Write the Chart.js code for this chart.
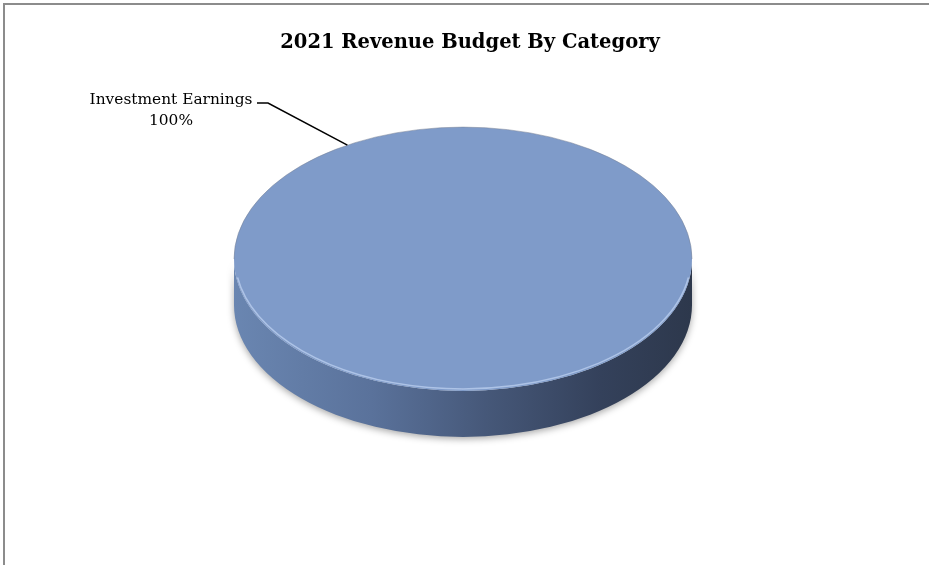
<!DOCTYPE html>
<html>
<head>
<meta charset="utf-8">
<title>2021 Revenue Budget By Category</title>
<script src="https://cdn.jsdelivr.net/npm/chart.js@4.4.1/dist/chart.umd.min.js"></script>
<style>
  html, body { margin: 0; padding: 0; background: #fff; }
  #wrap { position: relative; width: 930px; height: 565px; overflow: hidden; }
  #revenueChart { position: absolute; left: 0; top: 0; }
  #frame {
    position: absolute; left: 3px; top: 3px; width: 926px; height: 600px;
    border-left: 2px solid #8c8c8c; border-top: 2px solid #8c8c8c;
    box-sizing: border-box; pointer-events: none;
  }
</style>
</head>
<body>
<div id="wrap">
  <canvas id="revenueChart" width="930" height="565"></canvas>
  <div id="frame"></div>
</div>
<script>
const chartTitle = "2021 Revenue Budget By Category";
const categories = ["Investment Earnings"];
const budgetShares = [100];
const sliceColors = ["#7f9bc9"];

const TILT = 0.576;      // vertical squash of the pie face
const DEPTH = 46;        // thickness of the disc, px
const LEADER_ANGLE = -2.1; // where the label line touches the face (radians)

const serif = '"DejaVu Serif", "Liberation Serif", serif';

// draws the disc wall, then squashes the face the pie controller draws
const pie3d = {
    id: 'pie3d',
    beforeDatasetsDraw(chart) {
        const ctx = chart.ctx;
        const arc = chart.getDatasetMeta(0).data[0];
        const {x, y, outerRadius: r} = arc.getProps(['x', 'y', 'outerRadius'], true);
        const ry = r * TILT;

        ctx.save();
        const grad = ctx.createLinearGradient(x - r, 0, x + r, 0);
        grad.addColorStop(0, '#6a86b1');
        grad.addColorStop(0.3, '#5a729b');
        grad.addColorStop(0.55, '#465879');
        grad.addColorStop(0.8, '#34415b');
        grad.addColorStop(1, '#2d384c');
        ctx.beginPath();
        ctx.ellipse(x, y + DEPTH, r, ry, 0, 0, Math.PI);
        ctx.ellipse(x, y, r, ry, 0, Math.PI, 0, true);
        ctx.closePath();
        ctx.shadowColor = 'rgba(0,0,0,0.35)';
        ctx.shadowBlur = 7;
        ctx.shadowOffsetY = 2;
        ctx.fillStyle = grad;
        ctx.fill();
        ctx.restore();

        ctx.save();
        ctx.translate(x, y);
        ctx.scale(1, TILT);
        ctx.translate(-x, -y);
    },
    afterDatasetsDraw(chart) {
        const ctx = chart.ctx;
        ctx.restore();

        const arc = chart.getDatasetMeta(0).data[0];
        const {x, y, outerRadius: r} = arc.getProps(['x', 'y', 'outerRadius'], true);
        const ry = r * TILT;

        // soft rim along the back edge and a light bevel on the front edge
        ctx.save();
        ctx.lineWidth = 1;
        ctx.strokeStyle = 'rgba(120,130,150,0.5)';
        ctx.beginPath();
        ctx.ellipse(x, y, r, ry, 0, Math.PI, 0);
        ctx.stroke();
        ctx.lineWidth = 1.5;
        ctx.strokeStyle = 'rgba(185,205,238,0.8)';
        ctx.beginPath();
        ctx.ellipse(x, y - 1, r - 1, ry - 1, 0, 0.15, Math.PI - 0.15);
        ctx.stroke();
        ctx.restore();
    },
    afterDraw(chart) {
        const ctx = chart.ctx;
        const arc = chart.getDatasetMeta(0).data[0];
        const {x, y, outerRadius: r} = arc.getProps(['x', 'y', 'outerRadius'], true);
        const total = budgetShares.reduce((a, b) => a + b, 0);
        const pct = Math.round(budgetShares[0] / total * 100) + '%';

        ctx.save();
        ctx.fillStyle = '#000';
        ctx.textAlign = 'center';
        ctx.textBaseline = 'alphabetic';
        ctx.font = 'bold 19.5px ' + serif;
        ctx.fillText(chartTitle, 470, 48);

        ctx.font = '15.4px ' + serif;
        ctx.fillText(categories[0], 171, 104);
        ctx.fillText(pct, 171, 125);

        // leader line from label to the face
        ctx.strokeStyle = '#000';
        ctx.lineWidth = 1.5;
        ctx.beginPath();
        ctx.moveTo(257, 103);
        ctx.lineTo(268, 103);
        ctx.lineTo(x + r * Math.cos(LEADER_ANGLE), y + r * TILT * Math.sin(LEADER_ANGLE));
        ctx.stroke();
        ctx.restore();
    }
};

new Chart(document.getElementById('revenueChart'), {
    type: 'pie',
    data: {
        labels: categories,
        datasets: [{
            data: budgetShares,
            backgroundColor: sliceColors,
            borderWidth: 0,
            hoverOffset: 0,
            offset: 0
        }]
    },
    options: {
        responsive: false,
        animation: false,
        devicePixelRatio: 1,
        events: [],
        layout: {
            padding: {left: 234, right: 238, top: 30, bottom: 77}
        },
        plugins: {
            legend: {display: false},
            title: {display: false},
            tooltip: {enabled: false}
        }
    },
    plugins: [pie3d]
});
</script>
</body>
</html>
